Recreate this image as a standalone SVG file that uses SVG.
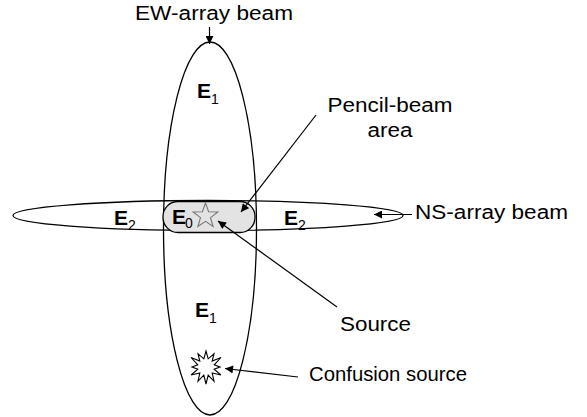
<svg xmlns="http://www.w3.org/2000/svg" width="587" height="417" viewBox="0 0 587 417">
<style>
.beam{fill:none;stroke:#000;stroke-width:1.3}
.lbl{font-family:"Liberation Sans",Arial,sans-serif;font-size:20px;fill:#000}
.e{font-family:"Liberation Sans",Arial,sans-serif;font-size:21px;font-weight:bold;fill:#000}
.sub{font-family:"Liberation Sans",Arial,sans-serif;font-size:14px;fill:#000}
.conn{stroke:#000;stroke-width:1.2;fill:none;marker-end:url(#ah)}
</style>
<defs>
<marker id="ah" viewBox="0 0 10 10" refX="10" refY="5" markerWidth="9" markerHeight="8" markerUnits="userSpaceOnUse" orient="auto">
<path d="M0,0 L10,5 L0,10 z" fill="#000"/>
</marker>
</defs>
<rect width="587" height="417" fill="#fff"/>
<g id="ew-beam">
<ellipse class="beam" cx="210" cy="228.5" rx="46.5" ry="186.5"/>
<text class="e" x="197" y="98">E</text><text class="sub" x="211" y="104">1</text>
<text class="e" x="195" y="317">E</text><text class="sub" x="209" y="323">1</text>
</g>
<g id="ns-beam">
<ellipse class="beam" cx="208" cy="215.5" rx="195" ry="15"/>
<text class="e" x="114" y="225">E</text><text class="sub" x="128" y="230">2</text>
<text class="e" x="284" y="225">E</text><text class="sub" x="298" y="230">2</text>
</g>
<g id="pencil-beam">
<rect x="163" y="201.5" width="92" height="31" rx="15" ry="15" fill="#e3e3e3" stroke="#000" stroke-width="1.3"/>
<text class="e" x="172" y="224">E</text><text class="sub" x="185" y="228">0</text>
</g>
<g id="source">
<polygon points="205.5,203 208.6,211.7 217.9,212 210.5,217.6 213.1,226.5 205.5,221.3 197.9,226.5 200.5,217.6 193.1,212 202.4,211.7" fill="none" stroke="#777" stroke-width="1.1"/>
</g>
<g id="confusion-source">
<polygon points="206,351 208.2,358.8 214,353.7 212.2,361 221,357.5 214.2,364.8 220,367 214.2,369.2 220.9,375 212.2,373 214,381.3 208.2,375.2 206,384 203.8,375.2 198,381.3 199.8,373 191.1,375 197.8,369.2 192,367 197.8,364.8 191,357.5 199.8,361 198,353.7 203.8,358.8" fill="#fff" stroke="#000" stroke-width="1.1"/>
</g>
<g id="labels">
<text class="lbl" x="214" y="20" text-anchor="middle" textLength="158" lengthAdjust="spacingAndGlyphs">EW-array beam</text>
<text class="lbl" x="390" y="112" text-anchor="middle" textLength="125" lengthAdjust="spacingAndGlyphs">Pencil-beam</text>
<text class="lbl" x="390" y="137" text-anchor="middle" textLength="45" lengthAdjust="spacingAndGlyphs">area</text>
<text class="lbl" x="415" y="219" textLength="153" lengthAdjust="spacingAndGlyphs">NS-array beam</text>
<text class="lbl" x="340" y="331" textLength="71" lengthAdjust="spacingAndGlyphs">Source</text>
<text class="lbl" x="309" y="381" textLength="158" lengthAdjust="spacingAndGlyphs">Confusion source</text>
</g>
<g id="connectors">
<line class="conn" x1="209.5" y1="27" x2="209.5" y2="44"/>
<line class="conn" x1="316" y1="115" x2="241" y2="212"/>
<line class="conn" x1="412" y1="214.5" x2="374" y2="214.5"/>
<line class="conn" x1="337" y1="307" x2="218" y2="221"/>
<line class="conn" x1="298" y1="377" x2="225" y2="368.5"/>
</g>
</svg>
